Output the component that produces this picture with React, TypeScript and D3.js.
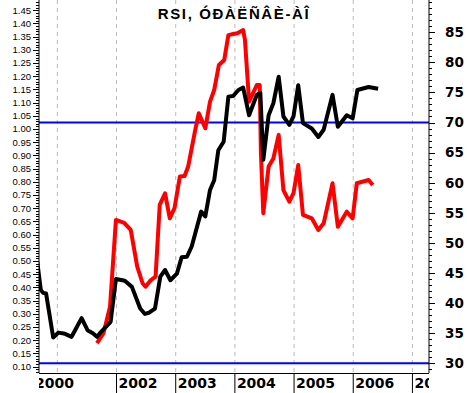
import { useEffect, useRef } from "react";
import * as d3 from "d3";

// RSI series (right axis), x as decimal years
const rsiYears = [
  2000.66, 2000.72, 2000.76, 2000.81, 2000.91, 2000.93, 2001.02, 2001.13, 2001.24, 2001.3,
  2001.41, 2001.51, 2001.6, 2001.67, 2001.72, 2001.9, 2001.99, 2002.14, 2002.26, 2002.4,
  2002.48, 2002.55, 2002.65, 2002.74, 2002.82, 2002.91, 2003.02, 2003.1, 2003.19, 2003.27,
  2003.43, 2003.5, 2003.58, 2003.65, 2003.72, 2003.81, 2003.89, 2003.97, 2004.06, 2004.14,
  2004.24, 2004.37, 2004.43, 2004.48, 2004.57, 2004.65, 2004.74, 2004.82, 2004.92, 2004.99,
  2005.07, 2005.15, 2005.3, 2005.41, 2005.5, 2005.65, 2005.74, 2005.89, 2005.99, 2006.07,
  2006.26, 2006.42,
];
const rsiValues = [
  46.9, 42.2, 41.7, 41.6, 35.5, 34.3, 35.1, 34.9, 34.4, 35.5,
  37.5, 35.5, 35.0, 34.4, 35.0, 36.9, 44.0, 43.7, 42.7, 39.1,
  38.2, 38.4, 39.1, 44.4, 45.5, 43.8, 44.9, 47.6, 47.7, 49.4,
  55.2, 54.4, 58.8, 60.4, 65.4, 66.8, 74.3, 74.4, 75.4, 75.8,
  71.2, 74.6, 74.9, 63.8, 71.2, 73.2, 77.6, 71.0, 69.6, 71.0,
  76.2, 69.9, 69.0, 67.6, 68.8, 74.6, 69.3, 71.2, 70.7, 75.4,
  75.9, 75.6,
];

// ratio series (left axis)
const ratioYears = [
  2001.67, 2001.78, 2001.89, 2001.99, 2002.13, 2002.24, 2002.35, 2002.44, 2002.49, 2002.58,
  2002.66, 2002.73, 2002.82, 2002.9, 2002.98, 2003.07, 2003.15, 2003.21, 2003.33, 2003.39,
  2003.44, 2003.5, 2003.58, 2003.65, 2003.73, 2003.82, 2003.89, 2003.97, 2004.04, 2004.14,
  2004.17, 2004.24, 2004.37, 2004.42, 2004.44, 2004.48, 2004.57, 2004.65, 2004.74, 2004.82,
  2004.92, 2004.99, 2005.07, 2005.15, 2005.3, 2005.41, 2005.5, 2005.65, 2005.74, 2005.89,
  2005.99, 2006.06, 2006.26, 2006.33,
];
const ratioValues = [
  0.189, 0.227, 0.327, 0.656, 0.645, 0.618, 0.479, 0.416, 0.403, 0.428,
  0.441, 0.713, 0.757, 0.662, 0.701, 0.82, 0.822, 0.858, 0.997, 1.06,
  1.034, 1.003, 1.104, 1.148, 1.243, 1.262, 1.356, 1.36, 1.363, 1.375,
  1.338, 1.104, 1.167, 1.167, 0.908, 0.681, 0.858, 0.889, 0.978, 0.769,
  0.725, 0.757, 0.864, 0.675, 0.662, 0.618, 0.643, 0.795, 0.63, 0.687,
  0.662, 0.795, 0.807, 0.788,
];

const gridYears = [2001, 2002, 2003, 2004, 2005, 2006, 2007];
const yearLabels = [2000, 2002, 2003, 2004, 2005, 2006, 2007];
const rsiLevels = [70, 30];
const title = "RSI, ÓÐÀËÑÂÈ-ÀÎ";

export default function App() {
  const ref = useRef<SVGSVGElement>(null);

  useEffect(() => {
    if (!ref.current) return;
    const svg = d3.select(ref.current);
    svg.selectAll("*").remove();

    const width = 467;
    const height = 393;
    const m = { left: 39, right: 429, top: 0, bottom: 373 };

    const x = d3.scaleLinear().domain([2000.69, 2007.28]).range([m.left, m.right]);
    const yL = d3.scaleLinear().domain([0.076, 1.489]).range([m.bottom, m.top]);
    const yR = d3.scaleLinear().domain([28.39, 90.35]).range([m.bottom, m.top]);

    svg.attr("width", width).attr("height", height);

    const defs = svg.append("defs");
    defs.append("clipPath").attr("id", "plotClip")
      .append("rect").attr("x", m.left).attr("y", 0)
      .attr("width", m.right - m.left).attr("height", m.bottom);
    defs.append("clipPath").attr("id", "labelClip")
      .append("rect").attr("x", m.left).attr("y", m.bottom)
      .attr("width", m.right - m.left).attr("height", height - m.bottom);

    svg.append("rect").attr("width", width).attr("height", height).attr("fill", "#fff");

    // dashed year gridlines
    svg.append("g").selectAll("line")
      .data(gridYears)
      .enter()
      .append("line")
      .attr("x1", d => x(d)).attr("x2", d => x(d))
      .attr("y1", 0).attr("y2", m.bottom)
      .attr("stroke", "#bbb")
      .attr("stroke-dasharray", "4,4");

    // separators below axis
    svg.append("g").selectAll("line")
      .data(gridYears.filter(d => d > 2001))
      .enter()
      .append("line")
      .attr("x1", d => x(d)).attr("x2", d => x(d))
      .attr("y1", m.bottom).attr("y2", height)
      .attr("stroke", "#000");

    // RSI level lines
    svg.append("g").selectAll("line")
      .data(rsiLevels)
      .enter()
      .append("line")
      .attr("x1", m.left).attr("x2", m.right)
      .attr("y1", d => yR(d)).attr("y2", d => yR(d))
      .attr("stroke", "#0000ff")
      .attr("stroke-width", 2);

    const plot = svg.append("g").attr("clip-path", "url(#plotClip)");

    // red first, black on top
    const ratioLine = d3.line<number>()
      .x((_, i) => x(ratioYears[i]))
      .y(d => yL(d));
    plot.append("path")
      .datum(ratioValues)
      .attr("d", ratioLine)
      .attr("fill", "none")
      .attr("stroke", "#ff0000")
      .attr("stroke-width", 4)
      .attr("stroke-linejoin", "round");

    const rsiLine = d3.line<number>()
      .x((_, i) => x(rsiYears[i]))
      .y(d => yR(d));
    plot.append("path")
      .datum(rsiValues)
      .attr("d", rsiLine)
      .attr("fill", "none")
      .attr("stroke", "#000")
      .attr("stroke-width", 4)
      .attr("stroke-linejoin", "round");

    // left axis
    const leftAxis = svg.append("g");
    leftAxis.append("line")
      .attr("x1", m.left).attr("x2", m.left).attr("y1", 0).attr("y2", m.bottom)
      .attr("stroke", "#000");
    const leftMinor = d3.range(8, 149).map(d => d / 100);
    leftAxis.selectAll(".minor")
      .data(leftMinor)
      .enter()
      .append("line")
      .attr("x1", m.left - 3).attr("x2", m.left)
      .attr("y1", d => Math.round(yL(d)) + 0.5).attr("y2", d => Math.round(yL(d)) + 0.5)
      .attr("stroke", "#000");
    const leftMajor = d3.range(2, 30).map(d => d * 0.05);
    leftAxis.selectAll(".major")
      .data(leftMajor)
      .enter()
      .append("line")
      .attr("x1", m.left - 6).attr("x2", m.left)
      .attr("y1", d => Math.round(yL(d)) + 0.5).attr("y2", d => Math.round(yL(d)) + 0.5)
      .attr("stroke", "#000");
    leftAxis.selectAll("text")
      .data(leftMajor)
      .enter()
      .append("text")
      .attr("x", m.left - 8)
      .attr("y", d => yL(d))
      .attr("dy", "0.35em")
      .attr("text-anchor", "end")
      .attr("font-family", "'Liberation Sans', Arial, sans-serif")
      .attr("font-size", "9.5px")
      .text(d => d.toFixed(2));

    // right axis
    const rightAxis = svg.append("g");
    rightAxis.append("line")
      .attr("x1", m.right).attr("x2", m.right).attr("y1", 0).attr("y2", m.bottom)
      .attr("stroke", "#000");
    rightAxis.selectAll(".minor")
      .data(d3.range(29, 91))
      .enter()
      .append("line")
      .attr("x1", m.right).attr("x2", m.right + 3)
      .attr("y1", d => Math.round(yR(d)) + 0.5).attr("y2", d => Math.round(yR(d)) + 0.5)
      .attr("stroke", "#000");
    const rightMajor = d3.range(30, 90, 5);
    rightAxis.selectAll(".major")
      .data(rightMajor)
      .enter()
      .append("line")
      .attr("x1", m.right).attr("x2", m.right + 6)
      .attr("y1", d => Math.round(yR(d)) + 0.5).attr("y2", d => Math.round(yR(d)) + 0.5)
      .attr("stroke", "#000");
    rightAxis.selectAll("text")
      .data(rightMajor)
      .enter()
      .append("text")
      .attr("x", 445)
      .attr("y", d => yR(d))
      .attr("dy", "0.36em")
      .attr("font-family", "'DejaVu Sans', sans-serif")
      .attr("font-weight", "bold")
      .attr("font-size", "13.5px")
      .text(d => d);

    // bottom axis
    svg.append("line")
      .attr("x1", m.left).attr("x2", m.right)
      .attr("y1", m.bottom + 0.5).attr("y2", m.bottom + 0.5)
      .attr("stroke", "#000");
    svg.append("g").attr("clip-path", "url(#labelClip)")
      .selectAll("text")
      .data(yearLabels)
      .enter()
      .append("text")
      .attr("x", d => Math.max(x(d) + 2, m.left - 4))
      .attr("y", 387.5)
      .attr("font-family", "'DejaVu Sans', sans-serif")
      .attr("font-weight", "bold")
      .attr("font-size", "14px")
      .text(d => d);

    // title
    svg.append("text")
      .attr("x", 234)
      .attr("y", 18.5)
      .attr("text-anchor", "middle")
      .attr("font-family", "'Liberation Sans', Arial, sans-serif")
      .attr("font-weight", "bold")
      .attr("font-size", "15px")
      .attr("letter-spacing", "1.6px")
      .text(title);
  }, []);

  return <svg ref={ref} style={{ position: "absolute", left: 0, top: 0, display: "block" }}></svg>;
}
